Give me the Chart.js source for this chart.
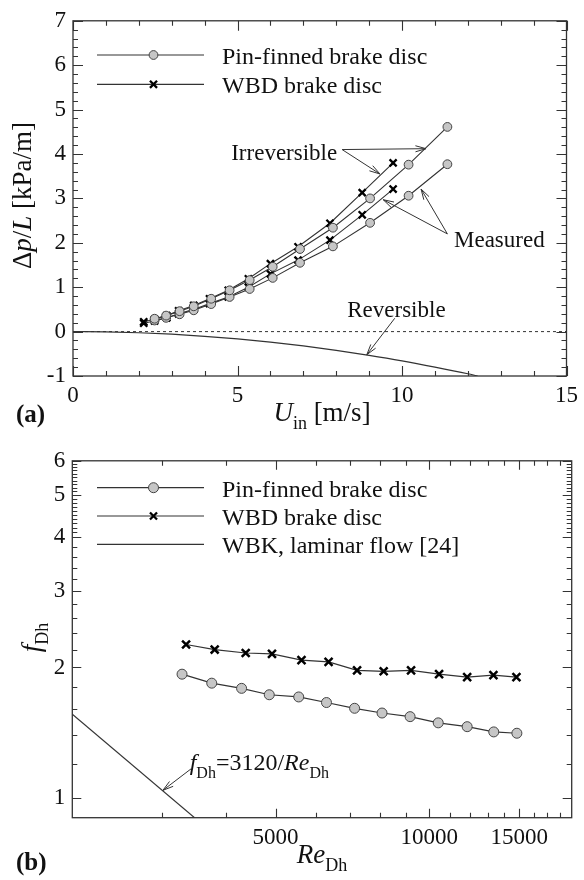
<!DOCTYPE html>
<html>
<head>
<meta charset="utf-8">
<title>Pressure drop and friction factor</title>
<script src="https://cdn.jsdelivr.net/npm/chart.js@4.4.1/dist/chart.umd.min.js"></script>
<style>
  body { margin: 0; background: #fff; }
  .panel { position: absolute; left: 0; width: 584px; height: 440px; }
</style>
</head>
<body>
<div class="panel" style="top:0"><canvas id="chartA" width="584" height="440"></canvas></div>
<div class="panel" style="top:440px"><canvas id="chartB" width="584" height="440"></canvas></div>
<script>
// ---- panel (a): pressure drop per length vs inlet velocity ----
const pinVelocity = [2.48, 2.83, 3.24, 3.67, 4.20, 4.76, 5.37, 6.07, 6.90, 7.90, 9.03, 10.20, 11.38];
const pinMeasured = [0.25, 0.31, 0.39, 0.48, 0.62, 0.78, 0.96, 1.21, 1.55, 1.92, 2.45, 3.06, 3.77];
const pinIrreversible = [0.29, 0.36, 0.46, 0.57, 0.74, 0.93, 1.16, 1.46, 1.86, 2.34, 3.00, 3.76, 4.61];
const wbdVelocity = [2.15, 2.48, 2.85, 3.21, 3.67, 4.15, 4.72, 5.33, 6.00, 6.84, 7.81, 8.79, 9.73];
const wbdMeasured = [0.19, 0.24, 0.31, 0.40, 0.50, 0.63, 0.78, 1.00, 1.30, 1.61, 2.06, 2.63, 3.21];
const wbdIrreversible = [0.22, 0.28, 0.36, 0.47, 0.59, 0.74, 0.93, 1.19, 1.53, 1.91, 2.44, 3.13, 3.80];
const reversibleVelocity = [0, 1, 2, 3, 4, 5, 6, 7, 8, 9, 10, 11, 12, 12.3];
const reversibleDrop = [0, -0.007, -0.026, -0.059, -0.106, -0.165, -0.238, -0.323, -0.422, -0.535, -0.66, -0.80, -0.95, -1.0];
const zeroLineVelocity = [0, 15];
const zeroLineDrop = [0, 0];
const uTicks = [0, 5, 10, 15];
const dpTicks = [-1, 0, 1, 2, 3, 4, 5, 6, 7];

// ---- panel (b): friction factor vs Reynolds number ----
const pinRe = [3280, 3750, 4290, 4860, 5550, 6290, 7140, 8080, 9170, 10410, 11860, 13370, 14840];
const pinFriction = [1.93, 1.84, 1.79, 1.73, 1.71, 1.66, 1.61, 1.57, 1.54, 1.49, 1.46, 1.42, 1.41];
const wbdRe = [3340, 3800, 4370, 4920, 5620, 6350, 7220, 8140, 9210, 10450, 11860, 13350, 14810];
const wbdFriction = [2.26, 2.20, 2.16, 2.15, 2.08, 2.06, 1.97, 1.96, 1.97, 1.93, 1.90, 1.92, 1.90];
const laminarRe = [2000, 3470];
const laminarFriction = [1.56, 0.90];
const reTicks = [5000, 10000, 15000];
const fTicks = [1, 2, 3, 4, 5, 6];

const serif = '"Liberation Serif", "Times New Roman", serif';
const ink = '#111';
const lineColor = '#333';
const circleFill = '#c6c6c6';

Chart.defaults.font.family = serif;
Chart.defaults.color = ink;

const pts = (xs, ys) => xs.map((x, i) => ({ x: x, y: ys[i] }));

function minorSteps(from, to, step) {
  const out = [];
  for (let v = from; v < to - 1e-9; v += step) {
    const r = Math.round(v * 100) / 100;
    if (Math.abs(r - Math.round(r)) > 1e-6) out.push(r);
  }
  return out;
}

function runFont(r, size) {
  const sz = r.s ? Math.round(size * 0.65) : size;
  return (r.i ? 'italic ' : '') + (r.b ? 'bold ' : '') + sz + 'px ' + serif;
}

// draws text made of runs (italic / subscript pieces)
function drawRuns(ctx, runs, x, y, size, align) {
  ctx.save();
  ctx.fillStyle = ink;
  ctx.textBaseline = 'alphabetic';
  ctx.textAlign = 'left';
  let w = 0;
  runs.forEach(r => { ctx.font = runFont(r, size); w += ctx.measureText(r.t).width; });
  let cx = align === 'center' ? x - w / 2 : align === 'right' ? x - w : x;
  runs.forEach(r => {
    ctx.font = runFont(r, size);
    ctx.fillText(r.t, cx, r.s ? y + size * 0.3 : y);
    cx += ctx.measureText(r.t).width;
  });
  ctx.restore();
}

function arrow(ctx, x1, y1, x2, y2) {
  const ang = Math.atan2(y2 - y1, x2 - x1), len = 11, spread = 0.28;
  ctx.save();
  ctx.strokeStyle = lineColor;
  ctx.lineWidth = 1;
  ctx.beginPath();
  ctx.moveTo(x1, y1);
  ctx.lineTo(x2, y2);
  ctx.moveTo(x2 - len * Math.cos(ang - spread), y2 - len * Math.sin(ang - spread));
  ctx.lineTo(x2, y2);
  ctx.lineTo(x2 - len * Math.cos(ang + spread), y2 - len * Math.sin(ang + spread));
  ctx.stroke();
  ctx.restore();
}

// arrow given in data coordinates of the chart
function dataArrow(chart, from, to) {
  const sx = chart.scales.x, sy = chart.scales.y;
  arrow(chart.ctx, sx.getPixelForValue(from[0]), sy.getPixelForValue(from[1]),
    sx.getPixelForValue(to[0]), sy.getPixelForValue(to[1]));
}

function dataText(chart, runs, at, size, align) {
  const sx = chart.scales.x, sy = chart.scales.y;
  drawRuns(chart.ctx, runs, sx.getPixelForValue(at[0]), sy.getPixelForValue(at[1]), size, align);
}

// frame plus inward ticks on all four sides
function drawFrame(chart, t) {
  const ctx = chart.ctx, a = chart.chartArea;
  const sx = chart.scales.x, sy = chart.scales.y;
  ctx.save();
  ctx.strokeStyle = lineColor;
  ctx.lineWidth = 1.3;
  ctx.strokeRect(a.left, a.top, a.right - a.left, a.bottom - a.top);
  ctx.lineWidth = 1.1;
  ctx.beginPath();
  const xt = (vals, len) => vals.forEach(v => {
    const p = Math.round(sx.getPixelForValue(v)) + 0.5;
    ctx.moveTo(p, a.bottom); ctx.lineTo(p, a.bottom - len);
    ctx.moveTo(p, a.top); ctx.lineTo(p, a.top + len);
  });
  const yt = (vals, len) => vals.forEach(v => {
    const p = Math.round(sy.getPixelForValue(v)) + 0.5;
    ctx.moveTo(a.left, p); ctx.lineTo(a.left + len, p);
    ctx.moveTo(a.right, p); ctx.lineTo(a.right - len, p);
  });
  xt(t.xMajor, t.majorLen); xt(t.xMinor, t.minorLen);
  yt(t.yMajor, t.majorLen); yt(t.yMinor, t.minorLen);
  ctx.stroke();
  ctx.restore();
}

function legendRow(ctx, y, marker, label) {
  const x0 = 97, x1 = 204;
  ctx.save();
  ctx.strokeStyle = lineColor;
  ctx.lineWidth = 1.2;
  ctx.beginPath(); ctx.moveTo(x0, y); ctx.lineTo(x1, y); ctx.stroke();
  if (marker) {
    ctx.fillStyle = marker.fill || circleFill;
    ctx.strokeStyle = marker.color;
    ctx.lineWidth = marker.borderWidth;
    Chart.helpers.drawPoint(ctx, marker, (x0 + x1) / 2 + 3, y);
  }
  ctx.restore();
  drawRuns(ctx, [{ t: label }], 222, y + 9, 24, 'left');
}

function rotatedTitle(ctx, runs, x, cy, size) {
  ctx.save();
  ctx.translate(x, cy);
  ctx.rotate(-Math.PI / 2);
  drawRuns(ctx, runs, 0, 0, size, 'center');
  ctx.restore();
}

const tickFont = { family: serif, size: 23 };

const circleA = { pointStyle: 'circle', pointRadius: 4.4, pointBackgroundColor: circleFill, pointBorderColor: '#444', pointBorderWidth: 1 };
const crossA = { pointStyle: 'crossRot', pointRadius: 5, pointBorderColor: '#000', pointBorderWidth: 2.3 };

// ================= chart (a) =================
const ticksA = {
  xMajor: uTicks,
  xMinor: [1, 2, 3, 4, 6, 7, 8, 9, 11, 12, 13, 14],
  yMajor: dpTicks,
  yMinor: minorSteps(-1, 7, 0.2),
  majorLen: 10, minorLen: 5
};

const overlayA = {
  id: 'overlayA',
  afterDraw(chart) {
    const ctx = chart.ctx;
    drawFrame(chart, ticksA);
    legendRow(ctx, 55, { pointStyle: 'circle', radius: 4.4, borderWidth: 1, color: '#444' }, 'Pin-finned brake disc');
    legendRow(ctx, 84.3, { pointStyle: 'crossRot', radius: 5, borderWidth: 2.3, color: '#000' }, 'WBD brake disc');
    // annotations
    dataText(chart, [{ t: 'Irreversible' }], [8.03, 3.87], 23, 'right');
    dataArrow(chart, [8.18, 4.10], [10.73, 4.12]);
    dataArrow(chart, [8.18, 4.10], [9.33, 3.55]);
    dataText(chart, [{ t: 'Measured' }], [11.58, 1.90], 23, 'left');
    dataArrow(chart, [11.38, 2.20], [9.43, 2.97]);
    dataArrow(chart, [11.38, 2.20], [10.58, 3.21]);
    dataText(chart, [{ t: 'Reversible' }], [9.83, 0.326], 23, 'center');
    dataArrow(chart, [9.78, 0.30], [8.93, -0.52]);
    // axis titles
    rotatedTitle(ctx, [{ t: 'Δ' }, { t: 'p', i: 1 }, { t: '/' }, { t: 'L', i: 1 }, { t: ' [kPa/m]' }], 31, 195.5, 27);
    drawRuns(ctx, [{ t: 'U', i: 1 }, { t: 'in', s: 1 }, { t: ' [m/s]' }], 322, 421, 27, 'center');
    drawRuns(ctx, [{ t: '(a)', b: 1 }], 16, 422, 25, 'left');
  }
};

new Chart(document.getElementById('chartA'), {
  type: 'scatter',
  data: {
    datasets: [
      Object.assign({ label: 'Pin-finned irreversible', data: pts(pinVelocity, pinIrreversible), showLine: true, borderColor: lineColor, borderWidth: 1.1 }, circleA),
      Object.assign({ label: 'Pin-finned measured', data: pts(pinVelocity, pinMeasured), showLine: true, borderColor: lineColor, borderWidth: 1.1 }, circleA),
      Object.assign({ label: 'WBD irreversible', data: pts(wbdVelocity, wbdIrreversible), showLine: true, borderColor: lineColor, borderWidth: 1.1 }, crossA),
      Object.assign({ label: 'WBD measured', data: pts(wbdVelocity, wbdMeasured), showLine: true, borderColor: lineColor, borderWidth: 1.1 }, crossA),
      { label: 'Reversible', data: pts(reversibleVelocity, reversibleDrop), showLine: true, borderColor: lineColor, borderWidth: 1.2, pointRadius: 0, cubicInterpolationMode: 'monotone' },
      { label: 'zero', data: pts(zeroLineVelocity, zeroLineDrop), showLine: true, borderColor: lineColor, borderWidth: 1, borderDash: [3, 3], pointRadius: 0 }
    ]
  },
  options: {
    responsive: false,
    animation: false,
    devicePixelRatio: 1,
    layout: { padding: { top: 15, right: 12, left: 0, bottom: 0 } },
    plugins: { legend: { display: false }, tooltip: { enabled: false } },
    scales: {
      x: {
        type: 'linear', min: 0, max: 15,
        afterFit(s) { s.height = 64; },
        afterBuildTicks(s) { s.ticks = uTicks.map(v => ({ value: v })); },
        grid: { display: false, drawTicks: false },
        border: { display: false },
        ticks: { font: tickFont, color: ink, padding: 6, autoSkip: false, maxRotation: 0 }
      },
      y: {
        type: 'linear', min: -1, max: 7,
        afterFit(s) { s.width = 73; },
        afterBuildTicks(s) { s.ticks = dpTicks.map(v => ({ value: v })); },
        grid: { display: false, drawTicks: false },
        border: { display: false },
        ticks: { font: tickFont, color: ink, padding: 7, autoSkip: false }
      }
    }
  },
  plugins: [overlayA]
});

// ================= chart (b) =================
const ticksB = {
  xMajor: reTicks,
  xMinor: [3000, 4000, 6000, 7000, 8000, 9000, 11000, 12000, 13000, 14000, 16000, 17000, 18000],
  yMajor: fTicks,
  yMinor: minorSteps(1, 4, 0.2).concat(minorSteps(4, 6, 0.1)),
  majorLen: 9, minorLen: 5
};

const circleB = { pointStyle: 'circle', pointRadius: 5, pointBackgroundColor: circleFill, pointBorderColor: '#444', pointBorderWidth: 1 };
const crossB = { pointStyle: 'crossRot', pointRadius: 5.6, pointBorderColor: '#000', pointBorderWidth: 2.5 };

const overlayB = {
  id: 'overlayB',
  afterDraw(chart) {
    const ctx = chart.ctx;
    drawFrame(chart, ticksB);
    legendRow(ctx, 47.7, { pointStyle: 'circle', radius: 5, borderWidth: 1, color: '#444' }, 'Pin-finned brake disc');
    legendRow(ctx, 76, { pointStyle: 'crossRot', radius: 5, borderWidth: 2.3, color: '#000' }, 'WBD brake disc');
    legendRow(ctx, 104.3, null, 'WBK, laminar flow [24]');
    dataText(chart, [{ t: 'f', i: 1 }, { t: 'Dh', s: 1 }, { t: '=3120/' }, { t: 'Re', i: 1 }, { t: 'Dh', s: 1 }], [3395, 1.157], 24, 'left');
    dataArrow(chart, [3420, 1.168], [3009, 1.041]);
    rotatedTitle(ctx, [{ t: 'f', i: 1 }, { t: 'Dh', s: 1 }], 40, 197.6, 27);
    drawRuns(ctx, [{ t: 'Re', i: 1 }, { t: 'Dh', s: 1 }], 322, 423, 27, 'center');
    drawRuns(ctx, [{ t: '(b)', b: 1 }], 16, 430, 25, 'left');
  }
};

new Chart(document.getElementById('chartB'), {
  type: 'scatter',
  data: {
    datasets: [
      Object.assign({ label: 'Pin-finned brake disc', data: pts(pinRe, pinFriction), showLine: true, borderColor: lineColor, borderWidth: 1.2 }, circleB),
      Object.assign({ label: 'WBD brake disc', data: pts(wbdRe, wbdFriction), showLine: true, borderColor: lineColor, borderWidth: 1.2 }, crossB),
      { label: 'WBK, laminar flow [24]', data: pts(laminarRe, laminarFriction), showLine: true, borderColor: lineColor, borderWidth: 1.2, pointRadius: 0 }
    ]
  },
  options: {
    responsive: false,
    animation: false,
    devicePixelRatio: 1,
    layout: { padding: { top: 17.5, right: 12.3, left: 0, bottom: 0 } },
    plugins: { legend: { display: false }, tooltip: { enabled: false } },
    scales: {
      x: {
        type: 'logarithmic', min: 2000, max: 19000,
        afterFit(s) { s.height = 62.3; },
        afterBuildTicks(s) { s.ticks = reTicks.map(v => ({ value: v })); },
        grid: { display: false, drawTicks: false },
        border: { display: false },
        ticks: { font: tickFont, color: ink, padding: 6, autoSkip: false, maxRotation: 0, callback: v => String(v) }
      },
      y: {
        type: 'logarithmic', min: 0.9, max: 6,
        afterFit(s) { s.width = 72.3; },
        afterBuildTicks(s) { s.ticks = fTicks.map(v => ({ value: v })); },
        grid: { display: false, drawTicks: false },
        border: { display: false },
        ticks: { font: tickFont, color: ink, padding: 7, autoSkip: false, callback: v => String(v) }
      }
    }
  },
  plugins: [overlayB]
});
</script>
</body>
</html>
